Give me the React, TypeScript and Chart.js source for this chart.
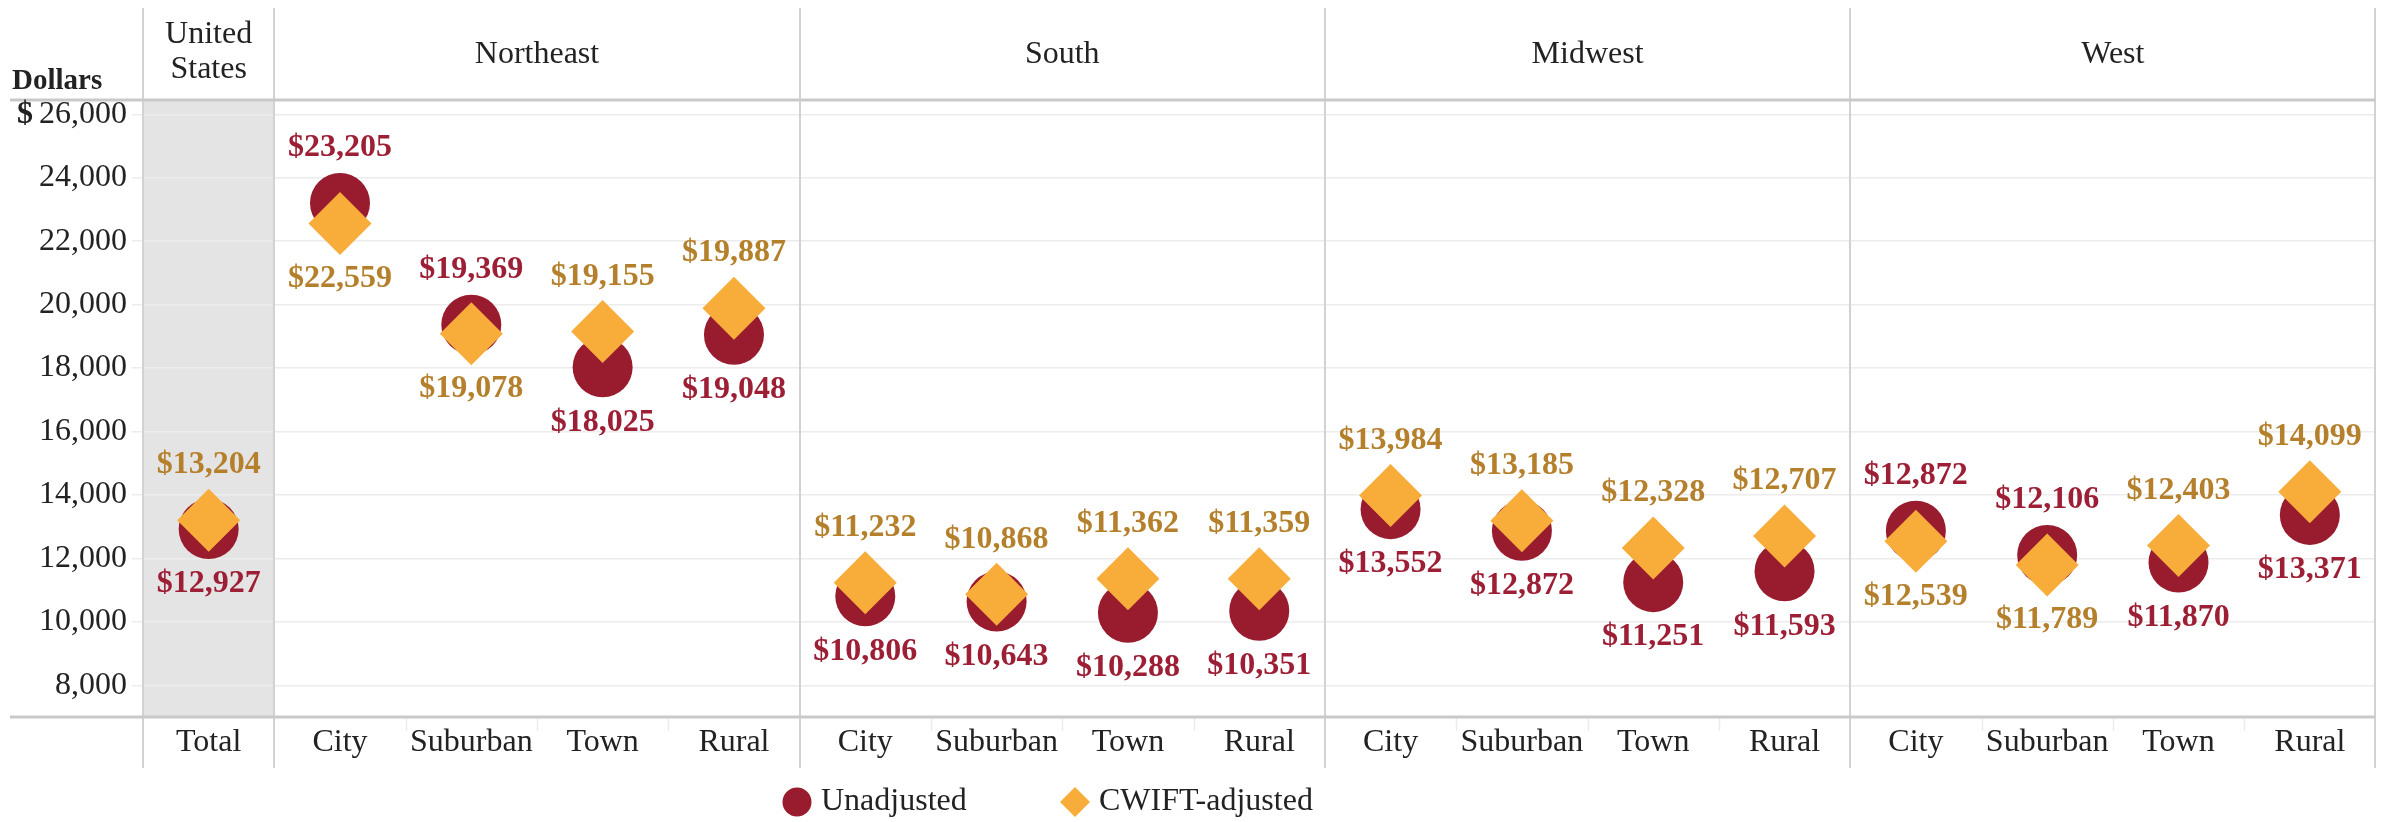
import React, { useEffect, useRef } from 'react';
import { Chart, registerables } from 'chart.js';
Chart.register(...registerables);

const categories = ['Total', 'City', 'Suburban', 'Town', 'Rural', 'City', 'Suburban', 'Town', 'Rural', 'City', 'Suburban', 'Town', 'Rural', 'City', 'Suburban', 'Town', 'Rural'];
const regionNames = ['Northeast', 'South', 'Midwest', 'West'];
const regionStarts = [1, 5, 9, 13];
const unadjusted = [12927, 23205, 19369, 18025, 19048, 10806, 10643, 10288, 10351, 13552, 12872, 11251, 11593, 12872, 12106, 11870, 13371];
const cwiftAdjusted = [13204, 22559, 19078, 19155, 19887, 11232, 10868, 11362, 11359, 13984, 13185, 12328, 12707, 12539, 11789, 12403, 14099];
const yTicks = [8000, 10000, 12000, 14000, 16000, 18000, 20000, 22000, 24000, 26000];

const RED = '#981b2e';
const ORANGE = '#f8ad3b';
const RED_TEXT = '#9d1f35';
const GOLD_TEXT = '#b5802c';
const SERIF = "'Liberation Serif', 'Times New Roman', serif";

const fmt = (v: number) => '$' + v.toLocaleString('en-US');

const decor = {
  id: 'decor',
  beforeDraw(chart: any) {
    const { ctx, chartArea, scales } = chart;
    const x = scales.x;
    const w = x.getPixelForValue(1) - x.getPixelForValue(0);
    const l0 = x.getPixelForValue(0) - w / 2;
    ctx.save();
    ctx.fillStyle = '#e4e4e4';
    ctx.fillRect(l0, chartArea.top, w, chartArea.bottom - chartArea.top);
    ctx.restore();
  },
  afterDatasetsDraw(chart: any) {
    const { ctx, chartArea, scales } = chart;
    const x = scales.x;
    const y = scales.y;
    const w = x.getPixelForValue(1) - x.getPixelForValue(0);
    const edge = (i: number) => x.getPixelForValue(i) - w / 2;
    ctx.save();

    // faint subcategory ticks in label band
    ctx.strokeStyle = '#ececec';
    ctx.lineWidth = 1.5;
    for (let i = 1; i < categories.length; i++) {
      if (i === 1 || regionStarts.includes(i)) continue;
      const px = Math.round(edge(i)) + 0.5;
      ctx.beginPath();
      ctx.moveTo(px, chartArea.bottom);
      ctx.lineTo(px, chartArea.bottom + 14);
      ctx.stroke();
    }

    // region dividers
    ctx.strokeStyle = '#d2d2d2';
    ctx.lineWidth = 2;
    const divs = [0, 1, ...regionStarts.slice(1), categories.length];
    divs.forEach((i) => {
      const px = Math.round(edge(i));
      ctx.beginPath();
      ctx.moveTo(px, 8);
      ctx.lineTo(px, 768);
      ctx.stroke();
    });

    // header line and axis line
    ctx.strokeStyle = '#c9c9c9';
    ctx.lineWidth = 3;
    ctx.beginPath();
    ctx.moveTo(10, chartArea.top);
    ctx.lineTo(chartArea.right, chartArea.top);
    ctx.moveTo(10, chartArea.bottom);
    ctx.lineTo(chartArea.right, chartArea.bottom);
    ctx.stroke();

    // header texts
    ctx.fillStyle = '#222';
    ctx.font = `32px ${SERIF}`;
    ctx.textAlign = 'center';
    ctx.textBaseline = 'middle';
    const c0 = x.getPixelForValue(0);
    ctx.fillText('United', c0, 35);
    ctx.fillText('States', c0, 70);
    regionNames.forEach((name, r) => {
      const s = regionStarts[r];
      const cx = (edge(s) + edge(s + 4)) / 2;
      ctx.fillText(name, cx, 55);
    });

    // axis title and $ sign
    ctx.textAlign = 'left';
    ctx.font = `bold 29px ${SERIF}`;
    ctx.fillText('Dollars', 12, 82);
    ctx.font = `bold 32px ${SERIF}`;
    ctx.fillText('$', 17, y.getPixelForValue(26000));

    // data labels
    ctx.textAlign = 'center';
    ctx.font = `bold 32px ${SERIF}`;
    const off = 55;
    categories.forEach((_, i) => {
      const u = unadjusted[i];
      const c = cwiftAdjusted[i];
      const px = x.getPixelForValue(i);
      const uy = y.getPixelForValue(u);
      const cy = y.getPixelForValue(c);
      const uAbove = u >= c;
      ctx.fillStyle = RED_TEXT;
      ctx.fillText(fmt(u), px, uAbove ? uy - off : uy + off);
      ctx.fillStyle = GOLD_TEXT;
      ctx.fillText(fmt(c), px, uAbove ? cy + off : cy - off);
    });

    // legend
    const ly = 802;
    ctx.fillStyle = RED;
    ctx.beginPath();
    ctx.arc(797, ly, 14.5, 0, Math.PI * 2);
    ctx.fill();
    ctx.fillStyle = ORANGE;
    ctx.beginPath();
    ctx.moveTo(1075, ly - 15);
    ctx.lineTo(1090, ly);
    ctx.lineTo(1075, ly + 15);
    ctx.lineTo(1060, ly);
    ctx.closePath();
    ctx.fill();
    ctx.fillStyle = '#222';
    ctx.font = `32px ${SERIF}`;
    ctx.textAlign = 'left';
    ctx.fillText('Unadjusted', 821, ly);
    ctx.fillText('CWIFT-adjusted', 1099, ly);

    ctx.restore();
  },
};

export default function App() {
  const ref = useRef<HTMLCanvasElement | null>(null);
  useEffect(() => {
    document.body.style.margin = '0';
    const canvas = ref.current!;
    const chart = new Chart(canvas, {
      type: 'line',
      data: {
        labels: categories,
        datasets: [
          {
            label: 'CWIFT-adjusted',
            data: cwiftAdjusted,
            showLine: false,
            pointStyle: 'rectRot',
            pointRadius: 31.5,
            pointHoverRadius: 31.5,
            pointBackgroundColor: ORANGE,
            pointBorderWidth: 0,
            borderColor: ORANGE,
            backgroundColor: ORANGE,
            order: 0,
          },
          {
            label: 'Unadjusted',
            data: unadjusted,
            showLine: false,
            pointStyle: 'circle',
            pointRadius: 30,
            pointHoverRadius: 30,
            pointBackgroundColor: RED,
            pointBorderWidth: 0,
            borderColor: RED,
            backgroundColor: RED,
            order: 1,
          },
        ],
      },
      options: {
        animation: false,
        responsive: false,
        devicePixelRatio: 1,
        events: [],
        layout: { padding: { left: 0, right: 9, top: 100, bottom: 0 } },
        plugins: { legend: { display: false }, tooltip: { enabled: false } },
        scales: {
          x: {
            type: 'category',
            offset: true,
            grid: { display: false, drawTicks: false },
            border: { display: false },
            ticks: {
              autoSkip: false,
              maxRotation: 0,
              padding: 6,
              color: '#222',
              font: { family: SERIF, size: 32 },
            },
            afterFit: (s: any) => {
              s.height = 105;
            },
          },
          y: {
            min: 7000,
            max: 26450,
            border: { display: false },
            grid: { color: '#ececec', lineWidth: 1.5, tickLength: 11 },
            ticks: {
              padding: 5,
              color: '#222',
              font: { family: SERIF, size: 32 },
              callback: (v: any) => Number(v).toLocaleString('en-US'),
            },
            afterBuildTicks: (s: any) => {
              s.ticks = yTicks.map((v) => ({ value: v }));
            },
            afterFit: (s: any) => {
              s.width = 143;
            },
          },
        },
      },
      plugins: [decor],
    });
    return () => chart.destroy();
  }, []);
  return (
    <div style={{ width: 2407, height: 822, overflow: 'hidden' }}>
      <canvas ref={ref} width={2407} height={822} style={{ display: 'block' }} />
    </div>
  );
}
